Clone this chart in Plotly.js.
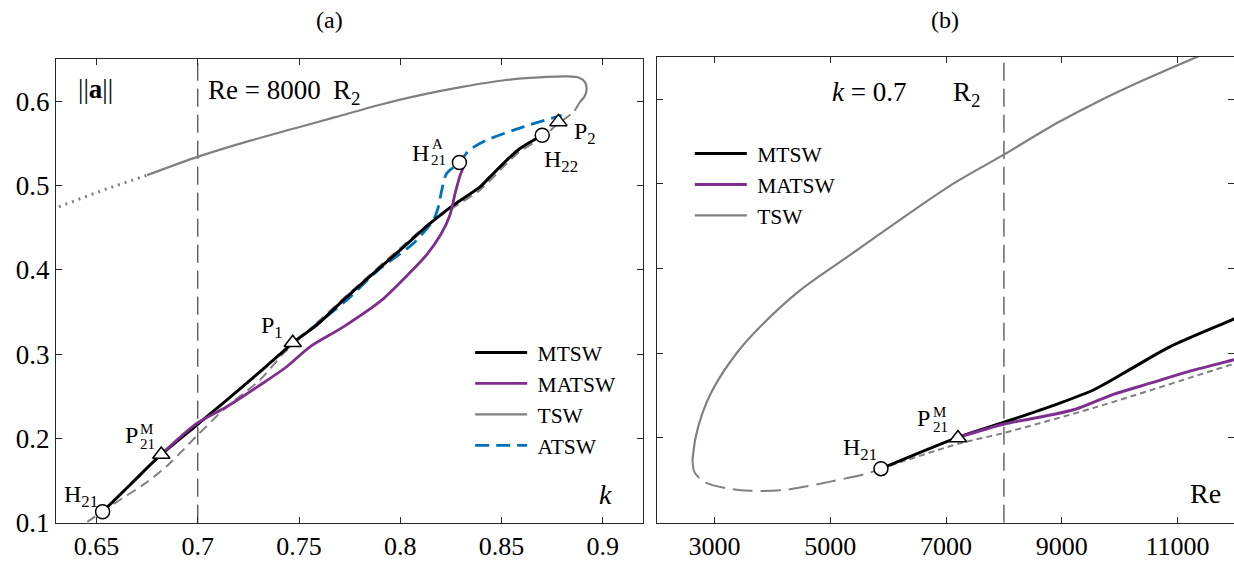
<!DOCTYPE html>
<html><head><meta charset="utf-8">
<script src="https://cdn.plot.ly/plotly-3.0.1.min.js"></script>
<style>html,body{margin:0;padding:0;background:#fff}#chart{width:1234px;height:561px}</style>
</head><body><div id="chart"></div>
<script>
// ---------- Panel (a): Re = 8000, abscissa k ----------
const aTswDotK   = [0.6314, 0.6530, 0.6750];
const aTswDotA   = [0.4749, 0.4945, 0.5125];
const aTswUpperK = [0.6750, 0.6999, 0.7268, 0.7476, 0.7683, 0.7891, 0.8098, 0.8306, 0.8513, 0.8721, 0.8820, 0.8880, 0.8912, 0.8920, 0.8910, 0.8887];
const aTswUpperA = [0.5125, 0.5342, 0.5540, 0.5678, 0.5816, 0.5955, 0.6074, 0.6172, 0.6251, 0.6291, 0.6298, 0.6285, 0.6230, 0.6140, 0.6060, 0.5994];
const aTswLowerK = [0.8887, 0.8855, 0.8814, 0.8781, 0.8701, 0.8591, 0.8526, 0.8394, 0.8262, 0.8147, 0.8000, 0.7719, 0.7469, 0.7423, 0.7307, 0.7143, 0.6995, 0.6860, 0.6748, 0.6583, 0.6443, 0.6420];
const aTswLowerA = [0.5994, 0.5875, 0.5797, 0.5740, 0.5575, 0.5405, 0.5265, 0.4950, 0.4740, 0.4560, 0.4260, 0.3660, 0.3110, 0.3010, 0.2693, 0.2376, 0.2030, 0.1700, 0.1480, 0.1220, 0.0993, 0.0960];
const aMtswK  = [0.6530, 0.6670, 0.6820, 0.6995, 0.7143, 0.7307, 0.7439, 0.7469, 0.7587, 0.7719, 0.7860, 0.7999, 0.8147, 0.8262, 0.8394, 0.8443, 0.8526, 0.8591, 0.8701];
const aMtswA  = [0.1130, 0.1460, 0.1810, 0.2159, 0.2456, 0.2791, 0.3069, 0.3135, 0.3345, 0.3642, 0.3945, 0.4235, 0.4552, 0.4769, 0.4986, 0.5104, 0.5303, 0.5441, 0.5599];
const aMatswK = [0.6820, 0.6995, 0.7143, 0.7307, 0.7439, 0.7554, 0.7719, 0.7908, 0.8040, 0.8130, 0.8200, 0.8245, 0.8272, 0.8295, 0.8310, 0.8292];
const aMatswA = [0.1810, 0.2178, 0.2376, 0.2633, 0.2851, 0.3088, 0.3325, 0.3642, 0.3950, 0.4180, 0.4420, 0.4650, 0.4920, 0.5120, 0.5223, 0.5275];
const aAtswK  = [0.7469, 0.7735, 0.7891, 0.8064, 0.8163, 0.8188, 0.8205, 0.8229, 0.8292, 0.8340, 0.8427, 0.8608, 0.8797];
const aAtswA  = [0.3135, 0.3642, 0.3998, 0.4314, 0.4591, 0.4749, 0.4947, 0.5145, 0.5275, 0.5420, 0.5540, 0.5698, 0.5836];
const aCircleK = [0.6530, 0.8292, 0.8701];   // H21, H21^A, H22
const aCircleA = [0.1130, 0.5275, 0.5599];
const aTriK    = [0.6820, 0.7469, 0.8781];   // P21^M, P1, P2
const aTriA    = [0.1810, 0.3135, 0.5757];
const aRefK = 0.7;

// ---------- Panel (b): k = 0.7, abscissa Re ----------
const bTswUpperRe = [11363, 10414, 9562, 8908, 7990, 7139, 6289, 5300, 4487, 3813, 3380, 2965, 2784, 2670, 2618];
const bTswUpperA  = [0.6506, 0.6224, 0.5949, 0.5714, 0.5341, 0.5008, 0.4616, 0.4140, 0.3747, 0.3330, 0.3000, 0.2567, 0.2280, 0.2000, 0.1740];
const bTswLoopRe  = [2618, 2650, 2817, 3209, 3602, 4191, 4978, 5633, 5875];
const bTswLoopA   = [0.1740, 0.1600, 0.1482, 0.1405, 0.1377, 0.1385, 0.1482, 0.1580, 0.1638];
const bTswLowRe   = [5875, 7205, 7990, 9562, 11920, 12000];
const bTswLowA    = [0.1638, 0.1930, 0.2058, 0.2358, 0.2864, 0.2880];
const bMtswRe  = [5875, 7205, 7990, 8908, 9562, 10217, 10872, 11920, 12000];
const bMtswA   = [0.1638, 0.2008, 0.2183, 0.2397, 0.2572, 0.2825, 0.3078, 0.3389, 0.3415];
const bMatswRe = [7205, 7990, 8580, 9235, 9890, 10545, 11199, 11920, 12000];
const bMatswA  = [0.2008, 0.2163, 0.2241, 0.2339, 0.2514, 0.2650, 0.2786, 0.2914, 0.2928];
const bCircleRe = [5875];   // H21
const bCircleA  = [0.1638];
const bTriRe    = [7205];   // P21^M
const bTriA     = [0.2000];
const bRefRe = 8000;

const yTicks = [0.1, 0.2, 0.3, 0.4, 0.5, 0.6];
const yTickText = ['0.1', '0.2', '0.3', '0.4', '0.5', '0.6'];
const kTicks = [0.65, 0.7, 0.75, 0.8, 0.85, 0.9];
const kTickText = ['0.65', '0.7', '0.75', '0.8', '0.85', '0.9'];
const reTicks = [3000, 5000, 7000, 9000, 11000];
const reTickText = ['3000', '5000', '7000', '9000', '11000'];

// ---------- styles ----------
const FONT = 'Liberation Serif';
const BLACK = '#000000', PURPLE = '#7E2F8E', GRAY = '#808080', BLUE = '#0072BD';
const AX = '#262626';
const NB = '\u00a0';

function ln(x, y, color, width, dash, extra, linear) {
  const line = {color: color, width: width, dash: dash || 'solid'};
  if (!linear) { line.shape = 'spline'; line.smoothing = 0.8; }
  return Object.assign({x: x, y: y, type: 'scatter', mode: 'lines', hoverinfo: 'skip',
    line: line, showlegend: false}, extra || {});
}
function mk(x, y, symbol, xa, ya) {
  return {x: x, y: y, type: 'scatter', mode: 'markers', showlegend: false, xaxis: xa, yaxis: ya,
    marker: {symbol: symbol, size: symbol === 'circle' ? 14 : 15, color: '#ffffff', line: {color: '#000', width: 1.5}}};
}

const traces = [
  // panel a
  ln(aTswDotK, aTswDotA, GRAY, 3, '2px,5px', null, true),
  ln(aTswLowerK, aTswLowerA, GRAY, 2, '10px,6px'),
  ln(aTswUpperK, aTswUpperA, GRAY, 2.2, 'solid', {name: NB + 'TSW', showlegend: true, legend: 'legend', legendrank: 3}),
  ln(aAtswK, aAtswA, BLUE, 2.8, '14px,7px', {name: NB + 'ATSW', showlegend: true, legend: 'legend', legendrank: 4}),
  ln(aMtswK, aMtswA, BLACK, 3, 'solid', {name: NB + 'MTSW', showlegend: true, legend: 'legend', legendrank: 1}),
  ln(aMatswK, aMatswA, PURPLE, 2.8, 'solid', {name: NB + 'MATSW', showlegend: true, legend: 'legend', legendrank: 2}),
  mk(aCircleK, aCircleA, 'circle', 'x', 'y'),
  mk(aTriK, aTriA, 'triangle-up', 'x', 'y'),
  // panel b
  ln(bTswLoopRe, bTswLoopA, GRAY, 2, '20px,8px', {xaxis: 'x2', yaxis: 'y2'}),
  ln(bTswLowRe, bTswLowA, GRAY, 2, '6px,4px', {xaxis: 'x2', yaxis: 'y2'}),
  ln(bTswUpperRe, bTswUpperA, GRAY, 2.2, 'solid', {xaxis: 'x2', yaxis: 'y2', name: NB + 'TSW', showlegend: true, legend: 'legend2', legendrank: 3}),
  ln(bMtswRe, bMtswA, BLACK, 3, 'solid', {xaxis: 'x2', yaxis: 'y2', name: NB + 'MTSW', showlegend: true, legend: 'legend2', legendrank: 1}),
  ln(bMatswRe, bMatswA, PURPLE, 3, 'solid', {xaxis: 'x2', yaxis: 'y2', name: NB + 'MATSW', showlegend: true, legend: 'legend2', legendrank: 2}),
  mk(bCircleRe, bCircleA, 'circle', 'x2', 'y2'),
  mk(bTriRe, bTriA, 'triangle-up', 'x2', 'y2')
];

function axisBase(extra, fs) {
  return Object.assign({showline: true, linecolor: AX, linewidth: 1, mirror: 'ticks', ticks: 'inside',
    ticklen: 6, tickwidth: 1, tickcolor: AX, showgrid: false, zeroline: false,
    tickfont: {family: FONT, size: fs || 27, color: '#000'}}, extra);
}

function ann(text, x, y, xref, yref, xanchor, size, extra) {
  return Object.assign({text: text, x: x, y: y, xref: xref, yref: yref, xanchor: xanchor, yanchor: 'middle',
    showarrow: false, borderpad: 0, font: {family: FONT, size: size, color: '#000'}}, extra || {});
}

const annotations = [
  ann('(a)', 0.2674, 0.965, 'paper', 'paper', 'center', 24),
  ann('(b)', 0.7658, 0.965, 'paper', 'paper', 'center', 24),
  // panel a
  ann('||<b>a</b>||', 0.6405, 0.6150, 'x', 'y', 'left', 27),
  ann('Re = 8000', 0.7045, 0.6130, 'x', 'y', 'left', 27),
  ann('R<sub>2</sub>', 0.7665, 0.6110, 'x', 'y', 'left', 27),
  ann('H', 0.8147, 0.5382, 'x', 'y', 'right', 24),
  ann('A', 0.8150, 0.5490, 'x', 'y', 'left', 15, {height: 14}),
  ann('21', 0.8147, 0.5300, 'x', 'y', 'left', 15, {height: 14}),
  ann('P<sub>2</sub>', 0.8852, 0.5620, 'x', 'y', 'left', 24),
  ann('H<sub>22</sub>', 0.8703, 0.5290, 'x', 'y', 'left', 24),
  ann('P<sub>1</sub>', 0.7425, 0.3320, 'x', 'y', 'right', 24),
  ann('P', 0.6708, 0.2040, 'x', 'y', 'right', 24),
  ann('M', 0.6712, 0.2110, 'x', 'y', 'left', 15, {height: 14}),
  ann('21', 0.6710, 0.1930, 'x', 'y', 'left', 15, {height: 14}),
  ann('H<sub>21</sub>', 0.6511, 0.1320, 'x', 'y', 'right', 24),
  ann('<i>k</i>', 0.9015, 0.1330, 'x', 'y', 'center', 28),
  // panel b
  ann('<i>k</i> = 0.7', 5011, 0.6086, 'x2', 'y2', 'left', 27),
  ann('R<sub>2</sub>', 7100, 0.6060, 'x2', 'y2', 'left', 27),
  ann('H<sub>21</sub>', 5520, 0.1870, 'x2', 'y2', 'center', 24),
  ann('P', 6747, 0.2241, 'x2', 'y2', 'right', 24),
  ann('M', 6760, 0.2310, 'x2', 'y2', 'left', 15, {height: 14}),
  ann('21', 6757, 0.2130, 'x2', 'y2', 'left', 15, {height: 14}),
  ann('Re', 11490, 0.1346, 'x2', 'y2', 'center', 28)
];

const shapes = [
  {type: 'line', xref: 'x', yref: 'y', x0: aRefK, x1: aRefK, y0: 0.1, y1: 0.65,
   line: {color: '#404040', width: 1.2, dash: '18px,8px'}, layer: 'below'},
  {type: 'line', xref: 'x2', yref: 'y2', x0: bRefRe, x1: bRefRe, y0: 0.1, y1: 0.65,
   line: {color: '#404040', width: 1.2, dash: '18px,8px'}, layer: 'below'}
];

const legendStyle = {bgcolor: 'rgba(0,0,0,0)', borderwidth: 0, font: {family: FONT, size: 21.5, color: '#000'},
  itemwidth: 52, tracegroupgap: 0, xanchor: 'left', yanchor: 'top', itemclick: false, itemdoubleclick: false};

const layout = {
  width: 1234, height: 561,
  margin: {l: 0, r: 0, t: 0, b: 0},
  paper_bgcolor: '#ffffff', plot_bgcolor: '#ffffff',
  font: {family: FONT, size: 23, color: '#000'},
  xaxis: axisBase({domain: [0.04538, 0.52131], range: [0.63, 0.92], tickvals: kTicks, ticktext: kTickText, anchor: 'y', ticklabelstandoff: 0}, 26),
  yaxis: axisBase({domain: [0.06827, 0.8943], range: [0.1, 0.65], tickvals: yTicks, ticktext: yTickText, anchor: 'x', ticklabelstandoff: 0}),
  xaxis2: axisBase({domain: [0.53217, 1.0], range: [2000, 11975], tickvals: reTicks, ticktext: reTickText, anchor: 'y2', ticklabelstandoff: 0}, 26),
  yaxis2: axisBase({domain: [0.06827, 0.8989], range: [0.1, 0.65], tickvals: yTicks, showticklabels: false, anchor: 'x2'}),
  legend: Object.assign({}, legendStyle, {x: 0.3810, y: 0.4082}),
  legend2: Object.assign({}, legendStyle, {x: 0.5590, y: 0.763}),
  annotations: annotations,
  shapes: shapes,
  showlegend: true
};

Plotly.newPlot('chart', traces, layout, {staticPlot: true, displayModeBar: false});
</script></body></html>
